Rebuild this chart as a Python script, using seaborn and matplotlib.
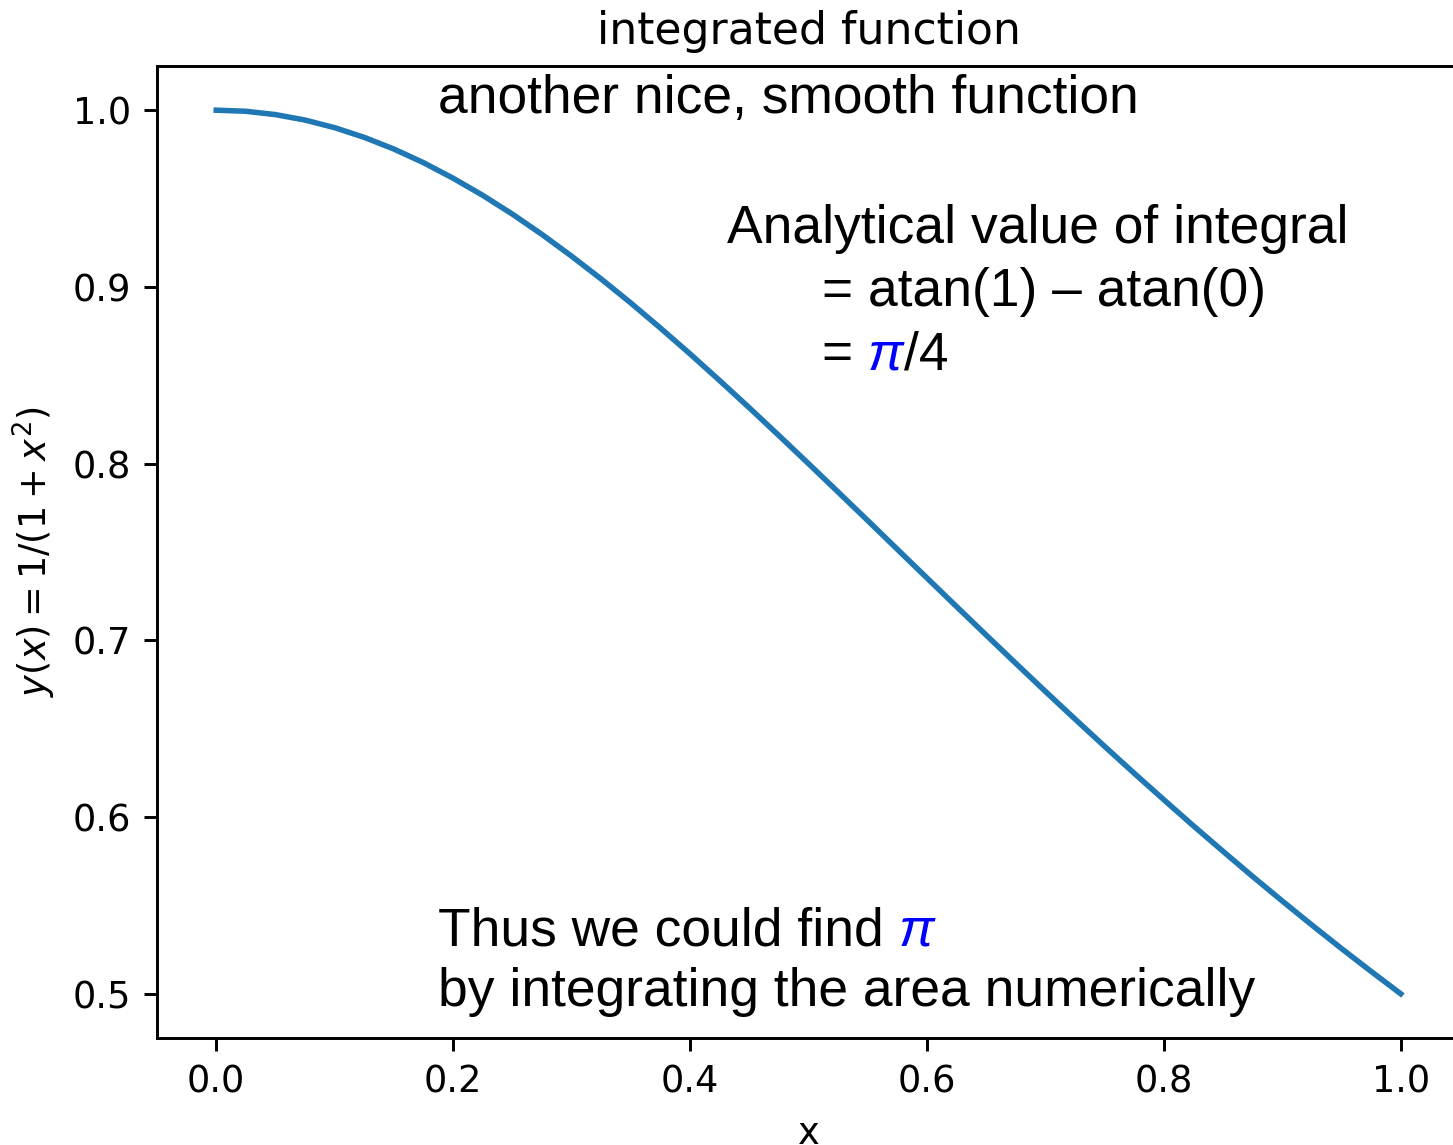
import matplotlib
matplotlib.use("Agg")
import matplotlib.pyplot as plt
import seaborn as sns
import pandas as pd

# Sampled values of the integrand y = 1/(1+x^2) on [0, 1]
x_vals = [0.0, 0.025, 0.05, 0.075, 0.1, 0.125, 0.15, 0.175, 0.2, 0.225,
          0.25, 0.275, 0.3, 0.325, 0.35, 0.375, 0.4, 0.425, 0.45, 0.475,
          0.5, 0.525, 0.55, 0.575, 0.6, 0.625, 0.65, 0.675, 0.7, 0.725,
          0.75, 0.775, 0.8, 0.825, 0.85, 0.875, 0.9, 0.925, 0.95, 0.975, 1.0]
y_vals = [1.0, 0.99938, 0.9975, 0.99441, 0.9901, 0.98462, 0.9780, 0.97029,
          0.9615, 0.95181, 0.9412, 0.92969, 0.9174, 0.90446, 0.8909, 0.87671,
          0.8621, 0.84701, 0.8316, 0.81591, 0.8, 0.78393, 0.7678, 0.75153,
          0.7353, 0.71910, 0.7030, 0.68699, 0.6711, 0.65547, 0.64, 0.62476,
          0.6098, 0.59502, 0.5806, 0.56637, 0.5525, 0.53890, 0.5256, 0.51266,
          0.5]
x_ticks = [0.0, 0.2, 0.4, 0.6, 0.8, 1.0]
y_ticks = [0.5, 0.6, 0.7, 0.8, 0.9, 1.0]

W, H = 1453, 1145
S = 2.65  # scale factor for fonts and line widths

plt.rcParams.update({
    "font.size": 10 * S,
    "axes.linewidth": 0.8 * S,
    "xtick.major.width": 0.8 * S,
    "ytick.major.width": 0.8 * S,
    "xtick.major.size": 3.5 * S,
    "ytick.major.size": 3.5 * S,
    "xtick.major.pad": 3.5 * S,
    "ytick.major.pad": 3.5 * S,
    "axes.titlepad": 6.0 * S,
    "axes.labelpad": 4.0 * S,
})

df = pd.DataFrame({"x": x_vals, "y": y_vals})

fig = plt.figure(figsize=(W / 100, H / 100), dpi=100)
ax = fig.add_axes([157 / W, 1 - 1038 / H, (1460 - 157) / W, (1038 - 66) / H])

sns.lineplot(data=df, x="x", y="y", ax=ax, color="#1f77b4", linewidth=1.5 * S)
ax.set_xticks(x_ticks)
ax.set_yticks(y_ticks)
ax.set_xticklabels([f"{v:.1f}" for v in x_ticks])
ax.set_yticklabels([f"{v:.1f}" for v in y_ticks])
ax.set_xlabel("x")
ax.set_ylabel(r"$y(x) = 1/(1 + x^2)$")
ax.set_title("integrated function", fontsize=12 * S)


def fpos(px, py):
    return px / W, 1 - py / H


note_font = dict(family="Liberation Sans", fontsize=38.4, va="baseline", ha="left")
fig.canvas.draw()
renderer = fig.canvas.get_renderer()


def text_then_pi(px, py, before, after=""):
    """Write `before`, then a blue italic pi, then `after` on one line."""
    t = fig.text(*fpos(px, py), before, **note_font)
    bb = t.get_window_extent(renderer)
    p = fig.text(bb.x1 / W, 1 - py / H, "\u03c0", color="blue", style="italic", **note_font)
    if after:
        bb2 = p.get_window_extent(renderer)
        fig.text(bb2.x1 / W, 1 - py / H, after, **note_font)


fig.text(*fpos(438, 113), "another nice, smooth function", **note_font)
fig.text(*fpos(727, 243), "Analytical value of integral", **note_font)
fig.text(*fpos(822, 306), "= atan(1) \u2013 atan(0)", **note_font)
text_then_pi(822, 369, "= ", "/4")
text_then_pi(438, 945, "Thus we could find ")
fig.text(*fpos(438, 1006), "by integrating the area numerically", **note_font)

fig.savefig("out.png", dpi=100)
